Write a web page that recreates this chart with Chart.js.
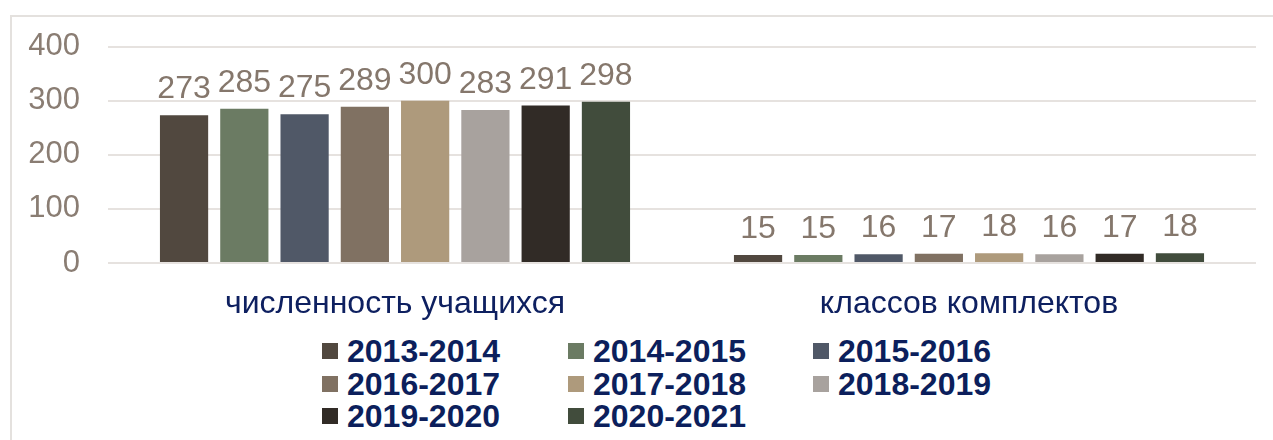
<!DOCTYPE html>
<html>
<head>
<meta charset="utf-8">
<script src="https://cdn.jsdelivr.net/npm/chart.js@4"></script>
<style>
  body { margin: 0; background: #fff; width: 1273px; height: 440px; overflow: hidden; position: relative; font-family: "Liberation Sans", Arial, sans-serif; }
  #frame { position: absolute; left: 10px; top: 15px; width: 1290px; height: 450px; border: 2px solid #e4e1de; box-sizing: border-box; }
  #wrap { position: absolute; left: 0; top: 0; width: 1273px; height: 325px; }
  #legend { position: absolute; left: 0; top: 335px; width: 1273px; }
  .item { position: absolute; display: flex; align-items: center; height: 32px; font-weight: bold; font-size: 32px; color: #0c1f5c; white-space: nowrap; }
  .item span.box { display: inline-block; width: 16px; height: 16px; margin-right: 9px; }
</style>
</head>
<body>
<div id="frame"></div>
<div id="wrap"><canvas id="chart"></canvas></div>
<div id="legend"></div>
<script>
// Data
const categories = ['численность учащихся', 'классов комплектов'];
const years = ['2013-2014', '2014-2015', '2015-2016', '2016-2017', '2017-2018', '2018-2019', '2019-2020', '2020-2021'];
const students = [273, 285, 275, 289, 300, 283, 291, 298];
const classes = [15, 15, 16, 17, 18, 16, 17, 18];
const yTicks = [0, 100, 200, 300, 400];
const colors = ['#51483f', '#6b7b63', '#505867', '#807162', '#ae9a7c', '#a8a29e', '#312b26', '#414c3c'];

const datasets = years.map((y, i) => ({
    label: y,
    data: [students[i], classes[i]],
    backgroundColor: colors[i],
    borderWidth: 0
}));

// value labels above bars
const valueLabels = {
    id: 'valueLabels',
    afterDatasetsDraw(chart) {
        const c = chart.ctx;
        c.save();
        c.font = '32px "Liberation Sans", Arial, sans-serif';
        c.fillStyle = '#85776c';
        c.textAlign = 'center';
        c.textBaseline = 'alphabetic';
        chart.data.datasets.forEach((ds, i) => {
            chart.getDatasetMeta(i).data.forEach((bar, j) => {
                c.fillText(ds.data[j], bar.x, bar.y - 17);
            });
        });
        c.restore();
    }
};

const ctx = document.getElementById('chart').getContext('2d');
const chart = new Chart(ctx, {
    type: 'bar',
    data: { labels: categories, datasets: datasets },
    options: {
        responsive: true,
        maintainAspectRatio: false,
        animation: false,
        layout: { padding: { top: 45, right: 17, left: 26, bottom: 0 } },
        categoryPercentage: 0.84,
        barPercentage: 0.8,
        plugins: {
            legend: { display: false },
            tooltip: { enabled: false }
        },
        scales: {
            x: {
                grid: { display: false },
                border: { display: false },
                afterFit(axis) { axis.height = 62; },
                ticks: {
                    color: '#0e2060',
                    font: { size: 32, family: '"Liberation Sans", Arial, sans-serif' },
                    padding: 14,
                    maxRotation: 0,
                    minRotation: 0,
                    autoSkip: false
                }
            },
            y: {
                min: 0,
                max: 400,
                afterBuildTicks(axis) { axis.ticks = yTicks.map(v => ({ value: v })); },
                afterFit(axis) { axis.width = 82; },
                grid: { color: '#e6e2df', lineWidth: 2, drawTicks: false },
                border: { display: false },
                ticks: {
                    color: '#8a7d73',
                    font: { size: 31, family: '"Liberation Sans", Arial, sans-serif' },
                    padding: 28
                }
            }
        }
    },
    plugins: [valueLabels]
});

// legend in three columns
const legendCols = [322, 568, 813];
const legendRows = [335, 368, 400];
const legend = document.getElementById('legend');
chart.data.datasets.forEach((ds, i) => {
    const d = document.createElement('div');
    d.className = 'item';
    d.style.left = legendCols[i % 3] + 'px';
    d.style.top = (legendRows[Math.floor(i / 3)] - 335) + 'px';
    d.innerHTML = '<span class="box" style="background:' + ds.backgroundColor + '"></span>' + ds.label;
    legend.appendChild(d);
});
</script>
</body>
</html>
